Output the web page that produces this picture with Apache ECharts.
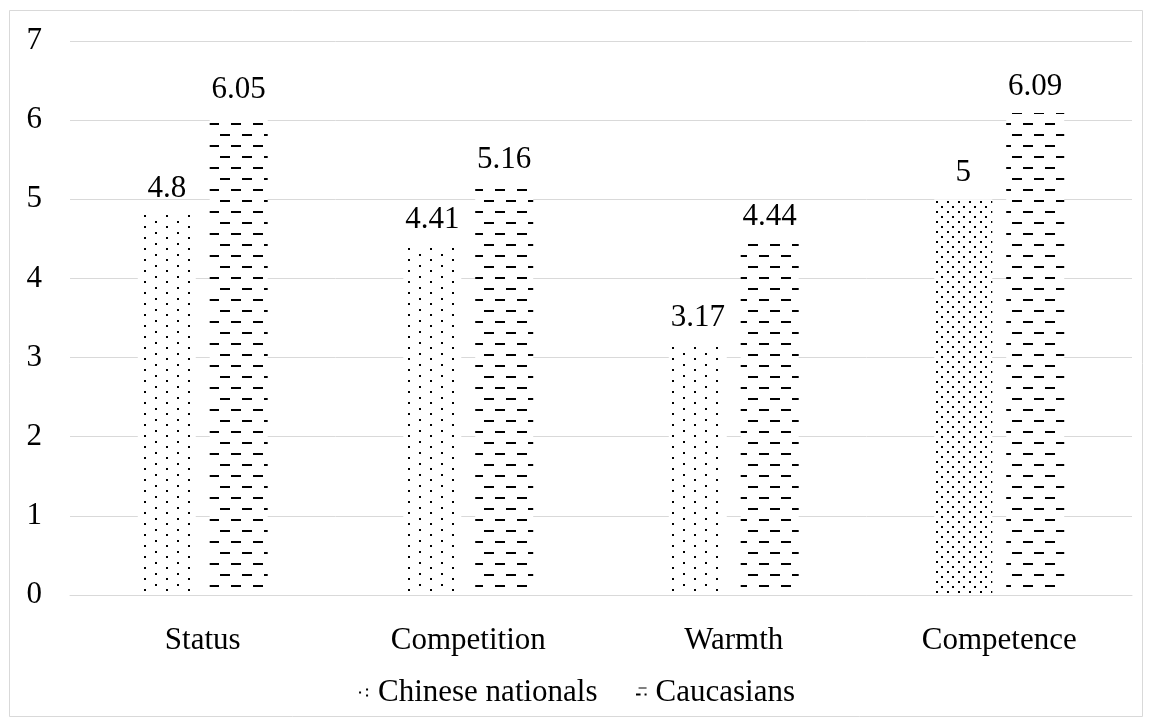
<!DOCTYPE html>
<html>
<head>
<meta charset="utf-8">
<script src="https://cdn.jsdelivr.net/npm/echarts@6/dist/echarts.min.js"></script>
<style>
  html, body { margin: 0; padding: 0; background: #fff; }
  #chart { width: 1153px; height: 727px; }
</style>
</head>
<body>
<div id="chart"></div>
<script>
const categories = ['Status', 'Competition', 'Warmth', 'Competence'];
const chineseNationals = [4.8, 4.41, 3.17, 5];
const caucasians = [6.05, 5.16, 4.44, 6.09];
const yTicks = [0, 1, 2, 3, 4, 5, 6, 7];

const FONT = '"Liberation Serif", "Times New Roman", serif';
const FONT_SIZE = 31;

// Tile painters for the bar fill patterns
function makeTile(w, h, draw, transparent) {
  const c = document.createElement('canvas');
  c.width = w; c.height = h;
  const ctx = c.getContext('2d');
  if (!transparent) {
    ctx.fillStyle = '#ffffff';
    ctx.fillRect(0, 0, w, h);
  }
  ctx.fillStyle = '#000000';
  draw(ctx);
  return c;
}
// sparse staggered dots
const sparseDots = makeTile(22, 11, ctx => {
  ctx.fillRect(1, 1, 2, 2);
  ctx.fillRect(12, 6, 2, 2);
});
// dense staggered dots
const denseDots = makeTile(11, 10, ctx => {
  ctx.fillRect(1, 1, 2, 2);
  ctx.fillRect(6, 6, 2, 2);
});
// staggered horizontal dashes
const dashes = makeTile(22, 22, ctx => {
  ctx.fillRect(0, 2, 10, 2);
  ctx.fillRect(11, 13, 10, 2);
});

// small legend swatches
const dotsIcon = makeTile(12, 12, ctx => {
  ctx.fillRect(1, 5, 2, 2);
  ctx.fillRect(8, 2, 2, 2);
  ctx.fillRect(8, 8, 2, 2);
}, true);
const dashIcon = makeTile(12, 12, ctx => {
  ctx.fillRect(3, 1, 8, 1);
  ctx.fillRect(0, 7, 5, 2);
  ctx.fillRect(9, 7, 2, 2);
}, true);

const pat = img => ({ image: img, repeat: 'repeat' });

const chart = echarts.init(document.getElementById('chart'), null, { renderer: 'canvas' });

const chineseData = chineseNationals.map((v, i) => ({
  value: v,
  itemStyle: { color: pat(i === 3 ? denseDots : sparseDots) }
}));

const labelCfg = {
  show: true,
  position: 'top',
  distance: 11,
  fontFamily: FONT,
  fontSize: FONT_SIZE,
  color: '#000'
};

chart.setOption({
  animation: false,
  backgroundColor: '#fff',
  graphic: [{
    type: 'rect',
    shape: { x: 9.5, y: 10.5, width: 1133, height: 706 },
    style: { fill: 'none', stroke: '#d9d9d9', lineWidth: 1 },
    silent: true
  }],
  grid: { left: 70, right: 21, top: 41, bottom: 132 },
  legend: {
    bottom: 14,
    left: 'center',
    itemWidth: 12,
    itemHeight: 12,
    itemGap: 38,
    textStyle: { fontFamily: FONT, fontSize: FONT_SIZE, color: '#000', padding: [0, 0, 0, 3] },
    data: [
      { name: 'Chinese nationals', icon: 'image://' + dotsIcon.toDataURL() },
      { name: 'Caucasians', icon: 'image://' + dashIcon.toDataURL() }
    ]
  },
  xAxis: {
    type: 'category',
    data: categories,
    axisTick: { show: false },
    axisLine: { show: true, lineStyle: { color: '#d9d9d9', width: 1 } },
    axisLabel: { fontFamily: FONT, fontSize: FONT_SIZE, color: '#000', margin: 30 }
  },
  yAxis: {
    type: 'value',
    min: yTicks[0],
    max: yTicks[yTicks.length - 1],
    interval: 1,
    axisLine: { show: false },
    axisTick: { show: false },
    splitLine: { lineStyle: { color: '#d9d9d9', width: 1 } },
    axisLabel: { fontFamily: FONT, fontSize: FONT_SIZE, color: '#000', margin: 28 }
  },
  series: [
    {
      name: 'Chinese nationals',
      type: 'bar',
      data: chineseData,
      barWidth: 58,
      barGap: '24%',
      itemStyle: { color: pat(sparseDots) },
      label: labelCfg
    },
    {
      name: 'Caucasians',
      type: 'bar',
      data: caucasians,
      barWidth: 58,
      itemStyle: { color: pat(dashes) },
      label: labelCfg
    }
  ]
});
</script>
</body>
</html>
